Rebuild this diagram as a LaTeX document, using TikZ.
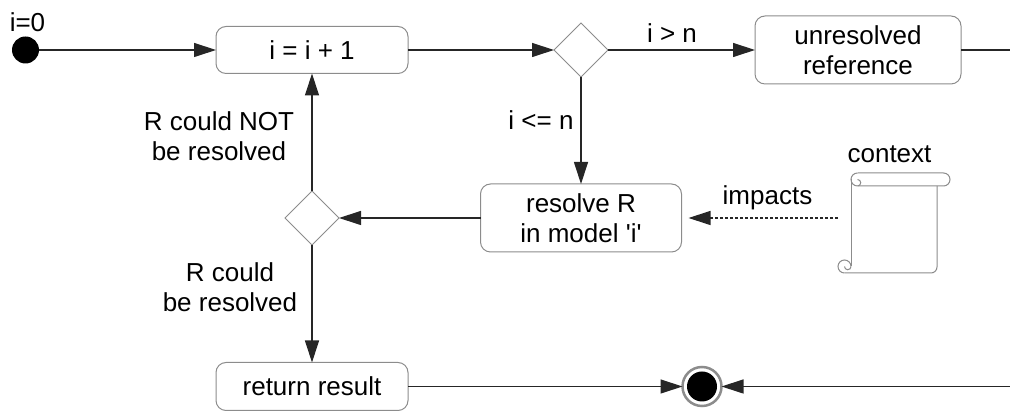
\documentclass[tikz,border=0pt]{standalone}
\usepackage{fontspec}
\newfontfamily\diafont{Liberation Sans}
\usetikzlibrary{shapes.geometric,arrows.meta}
\begin{document}
\begin{tikzpicture}[x=1pt,y=1pt,
  every node/.style={font=\diafont\fontsize{26}{30}\selectfont, inner sep=0pt, outer sep=0pt},
  actbox/.style={draw=black!45, line width=1pt, rounded corners=10pt, align=center},
  decis/.style={diamond, draw=black!45, line width=1pt, minimum width=54pt, minimum height=54pt, aspect=1},
  conn/.style={draw=black!85, line width=1.2pt},
  flow/.style={conn, -{Triangle[length=22pt,width=14pt]}},
  influence/.style={flow, dash pattern=on 3pt off 2pt, shorten >=7pt},
  lbl/.style={align=center, text=black},
  scrollline/.style={draw=black!45, line width=1pt}
]
\useasboundingbox (0,0) rectangle (1010,414);

% nodes
\node[circle, fill=black, minimum size=27pt] (start) at (25.5,364) {};
\node[lbl, anchor=base] (startlbl) at (27.5,382) {i=0};
\node[actbox, minimum width=192pt, minimum height=47pt] (inc) at (312,364) {i = i + 1};
\node[decis] (d1) at (581,364) {};
\node[actbox, minimum width=206pt, minimum height=68pt] (unres) at (858,364) {unresolved\\reference};
\node[actbox, minimum width=201pt, minimum height=68pt] (resolve) at (581,196) {resolve R\\in model 'i'};
\node[decis] (d2) at (312,196) {};
\node[actbox, minimum width=192pt, minimum height=48pt] (ret) at (312,27.5) {return result};
\node[circle, draw=black!45, line width=2.5pt, minimum size=39pt,
      path picture={\fill[black] (path picture bounding box.center) circle (15pt);}] (end) at (702,27.5) {};
\coordinate (outR) at (1010,364);
\coordinate (inR) at (1010,27.5);
\node[minimum width=112pt, minimum height=100pt] (ctx) at (894,191) {};

% context scroll
\draw[scrollline] (857.5,241) -- (943.5,241) arc[start angle=90, end angle=-90, radius=6.5] -- (857.5,228);
\draw[scrollline] (857.5,241) arc[start angle=90, end angle=270, radius=6.5];
\draw[scrollline] (857.5,228) arc[start angle=-90, end angle=90, radius=3.25];
\draw[scrollline] (851,234.5) -- (851,147.5);
\draw[scrollline] (844.5,141) -- (931,141) arc[start angle=-90, end angle=0, radius=6] -- (937,228);
\draw[scrollline] (844.5,141) arc[start angle=-90, end angle=-360, radius=6.5];
\draw[scrollline] (851,147.5) arc[start angle=0, end angle=-180, radius=3.25];

% labels
\node[lbl, anchor=base] (gt) at (672,371) {i > n};
\node[lbl, anchor=base] (le) at (541,284) {i <= n};
\node[lbl] (notres) at (219,277.5) {R could NOT\\be resolved};
\node[lbl] (res) at (230,126.5) {R could\\be resolved};
\node[lbl, anchor=base] (ctxlbl) at (889.5,251) {context};
\node[lbl, anchor=base] (imp) at (767.5,209) {impacts};

% connectors
\draw[flow] (start) -- (inc);
\draw[flow] (inc) -- (d1);
\draw[flow] (d1) -- (unres);
\draw[conn] (unres) -- (outR);
\draw[flow] (d1) -- (resolve);
\draw[flow] (resolve) -- (d2);
\draw[flow] (d2) -- (inc);
\draw[flow] (d2) -- (ret);
\draw[flow] (ret) -- (end);
\draw[flow] (inR) -- (end);
\draw[influence] (ctx.west |- resolve.east) -- (resolve.east);
\end{tikzpicture}
\end{document}
